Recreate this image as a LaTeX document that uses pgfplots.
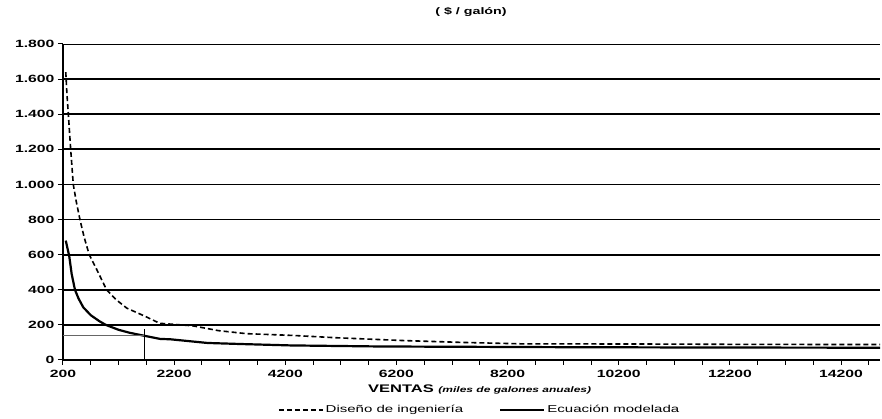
\documentclass[border=0pt]{standalone}
\usepackage{fontspec}
\setmainfont{Liberation Sans}[FakeStretch=1.5]
\usepackage{pgfplots}
\pgfplotsset{compat=1.18}
\begin{document}
\begin{tikzpicture}[x=1pt,y=1pt]
\useasboundingbox (-63,-59) rectangle (819,360);
\begin{axis}[
  at={(0,0)}, anchor=south west,
  scale only axis, width=817pt, height=316pt,
  xmin=200, xmax=14900, ymin=0, ymax=1800,
  scaled x ticks=false, scaled y ticks=false,
  axis x line*=bottom, axis y line*=left,
  axis line style={line width=1.7pt, -},
  xtick={200,2200,...,14200},
  xticklabels={200,2200,4200,6200,8200,10200,12200,14200},
  minor xtick={700,1200,...,14700},
  ytick={0,200,...,1600},
  yticklabels={0,200,400,600,800,1.000,1.200,1.400,1.600},
  extra y ticks={1800}, extra y tick labels={1.800},
  extra y tick style={grid style={black,line width=0.8pt}},
  ymajorgrids, grid style={black,line width=1.7pt},
  tick align=outside, major tick length=5pt, minor tick length=5pt,
  tick style={black, line width=1pt},
  ticklabel style={font=\fontsize{10.5}{12}\selectfont\bfseries},
  xticklabel style={yshift=-2pt},
  xlabel={\fontsize{11}{12}\selectfont\bfseries VENTAS {\fontsize{8}{9}\selectfont\itshape (miles de galones anuales)}},
  xlabel style={at={(axis description cs:0.51,0)}, anchor=north, yshift=-21pt},
  legend style={draw=none, at={(0.51,-0.158)}, anchor=center, legend columns=2,
    font=\fontsize{10}{12}\selectfont, inner sep=1pt,
    /tikz/every even column/.append style={column sep=34pt}},
  legend image code/.code={\draw[#1] (0pt,0pt) -- (44pt,0pt);},
]
\addplot[black, line width=1.6pt, dash pattern=on 5pt off 3pt] coordinates {
 (250,1640) (270,1520) (296,1400) (338,1200) (385,1000) (440,900) (505,800)
 (580,700) (672,600) (800,520) (984,400) (1150,345) (1350,295) (1670,250)
 (1940,209) (2530,195) (3000,167) (3500,150) (4330,140) (5100,127) (6300,111)
 (7400,100) (8460,92) (10700,91) (12500,89) (14900,88)};
\addlegendentry{Diseño de ingeniería}
\addplot[black, line width=2.2pt] coordinates {
 (250,680) (313,590) (356,490) (415,400) (480,350) (565,300) (700,255)
 (850,222) (970,200) (1200,172) (1400,155) (1600,142) (1950,120) (2130,118)
 (2800,97) (3400,91) (4300,83) (5900,77) (9200,73) (12000,71) (14900,70)};
\addlegendentry{Ecuación modelada}
\addplot[gray!80!black, line width=0.9pt, forget plot] coordinates {(200,140) (1670,140)};
\addplot[black, line width=0.8pt, forget plot] coordinates {(1670,0) (1670,175)};
\node[anchor=east, text=gray, font=\fontsize{8}{9}\selectfont] at (axis cs:200,130) [xshift=-9pt] {140};
\end{axis}
\node[font=\bfseries\fontsize{9.5}{10}\selectfont] at (408,348) {( \$ / galón)};
\end{tikzpicture}
\end{document}
